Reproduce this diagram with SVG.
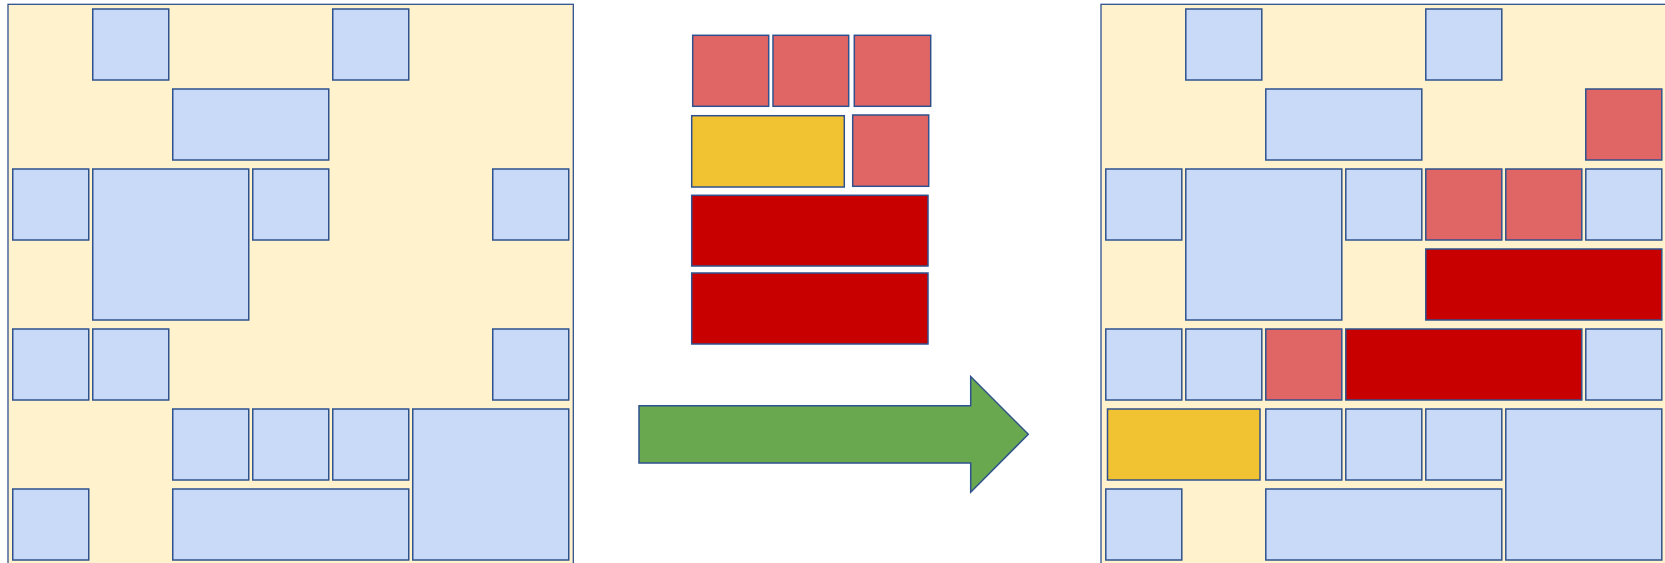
<svg xmlns="http://www.w3.org/2000/svg" width="1665" height="563" viewBox="0 0 1665 563">
<style>
.panel, .b, .p, .r, .y, .g { stroke: #2F528F; stroke-width: 1.5; }
.panel { fill: #FFF2CC; stroke-width: 1.3; }
.b { fill: #C9DAF8; }
.p { fill: #E06666; }
.r { fill: #C80000; }
.y { fill: #F1C232; }
.g { fill: #6AA84F; }
</style>
<g id="before">
  <rect class="panel" x="8" y="4.3" width="565.3" height="600"/>
  <g id="L-0-0"><rect class="b" x="92.75" y="9" width="76" height="71"/></g>
  <g id="L-3-0"><rect class="b" x="332.75" y="9" width="76" height="71"/></g>
  <g id="L-2-1"><rect class="b" x="172.75" y="89" width="156" height="71"/></g>
  <g id="L-0-2"><rect class="b" x="12.75" y="169" width="76" height="71"/></g>
  <g id="L-1-2"><rect class="b" x="92.75" y="169" width="156" height="151"/></g>
  <g id="L-3-2"><rect class="b" x="252.75" y="169" width="76" height="71"/></g>
  <g id="L-6-2"><rect class="b" x="492.75" y="169" width="76" height="71"/></g>
  <g id="L-0-4"><rect class="b" x="12.75" y="329" width="76" height="71"/></g>
  <g id="L-1-4"><rect class="b" x="92.75" y="329" width="76" height="71"/></g>
  <g id="L-6-4"><rect class="b" x="492.75" y="329" width="76" height="71"/></g>
  <g id="L-2-5"><rect class="b" x="172.75" y="409" width="76" height="71"/></g>
  <g id="L-3-5"><rect class="b" x="252.75" y="409" width="76" height="71"/></g>
  <g id="L-4-5"><rect class="b" x="332.75" y="409" width="76" height="71"/></g>
  <g id="L-5-5"><rect class="b" x="412.75" y="409" width="156" height="151"/></g>
  <g id="L-0-6"><rect class="b" x="12.75" y="489" width="76" height="71"/></g>
  <g id="L-2-6"><rect class="b" x="172.75" y="489" width="236" height="71"/></g>
</g>
<g id="pieces">
  <g id="M-p1"><rect class="p" x="692.7" y="35.3" width="76" height="71"/></g>
  <g id="M-p2"><rect class="p" x="773" y="35.3" width="75.7" height="71"/></g>
  <g id="M-p3"><rect class="p" x="854.3" y="35.3" width="76.4" height="71"/></g>
  <g id="M-y1"><rect class="y" x="691.7" y="115.7" width="152.6" height="71.3"/></g>
  <g id="M-p4"><rect class="p" x="852.7" y="115" width="76" height="71.3"/></g>
  <g id="M-r1"><rect class="r" x="691.7" y="195.3" width="236.3" height="70.7"/></g>
  <g id="M-r2"><rect class="r" x="691.7" y="273" width="236.3" height="71"/></g>
</g>
<g id="connectors">
  <polygon class="g" points="639,405.7 970.7,405.7 970.7,376.5 1028.3,434.3 970.7,492.3 970.7,463 639,463"/>
</g>
<g id="after">
  <rect class="panel" x="1101" y="4.3" width="600" height="600"/>
  <g id="R-1-0"><rect class="b" x="1185.8" y="9" width="76" height="71"/></g>
  <g id="R-4-0"><rect class="b" x="1425.8" y="9" width="76" height="71"/></g>
  <g id="R-2-1"><rect class="b" x="1265.8" y="89" width="156" height="71"/></g>
  <g id="R-6-1"><rect class="p" x="1585.8" y="89" width="76" height="71"/></g>
  <g id="R-0-2"><rect class="b" x="1105.8" y="169" width="76" height="71"/></g>
  <g id="R-1-2"><rect class="b" x="1185.8" y="169" width="156" height="151"/></g>
  <g id="R-3-2"><rect class="b" x="1345.8" y="169" width="76" height="71"/></g>
  <g id="R-4-2"><rect class="p" x="1425.8" y="169" width="76" height="71"/></g>
  <g id="R-5-2"><rect class="p" x="1505.8" y="169" width="76" height="71"/></g>
  <g id="R-6-2"><rect class="b" x="1585.8" y="169" width="76" height="71"/></g>
  <g id="R-4-3"><rect class="r" x="1425.8" y="249" width="236" height="71"/></g>
  <g id="R-0-4"><rect class="b" x="1105.8" y="329" width="76" height="71"/></g>
  <g id="R-1-4"><rect class="b" x="1185.8" y="329" width="76" height="71"/></g>
  <g id="R-2-4"><rect class="p" x="1265.8" y="329" width="76" height="71"/></g>
  <g id="R-3-4"><rect class="r" x="1345.8" y="329" width="236" height="71"/></g>
  <g id="R-6-4"><rect class="b" x="1585.8" y="329" width="76" height="71"/></g>
  <g id="R-0-5"><rect class="y" x="1107.5" y="409" width="152.5" height="71"/></g>
  <g id="R-2-5"><rect class="b" x="1265.8" y="409" width="76" height="71"/></g>
  <g id="R-3-5"><rect class="b" x="1345.8" y="409" width="76" height="71"/></g>
  <g id="R-4-5"><rect class="b" x="1425.8" y="409" width="76" height="71"/></g>
  <g id="R-5-5"><rect class="b" x="1505.8" y="409" width="156" height="151"/></g>
  <g id="R-0-6"><rect class="b" x="1105.8" y="489" width="76" height="71"/></g>
  <g id="R-2-6"><rect class="b" x="1265.8" y="489" width="236" height="71"/></g>
</g>
</svg>
